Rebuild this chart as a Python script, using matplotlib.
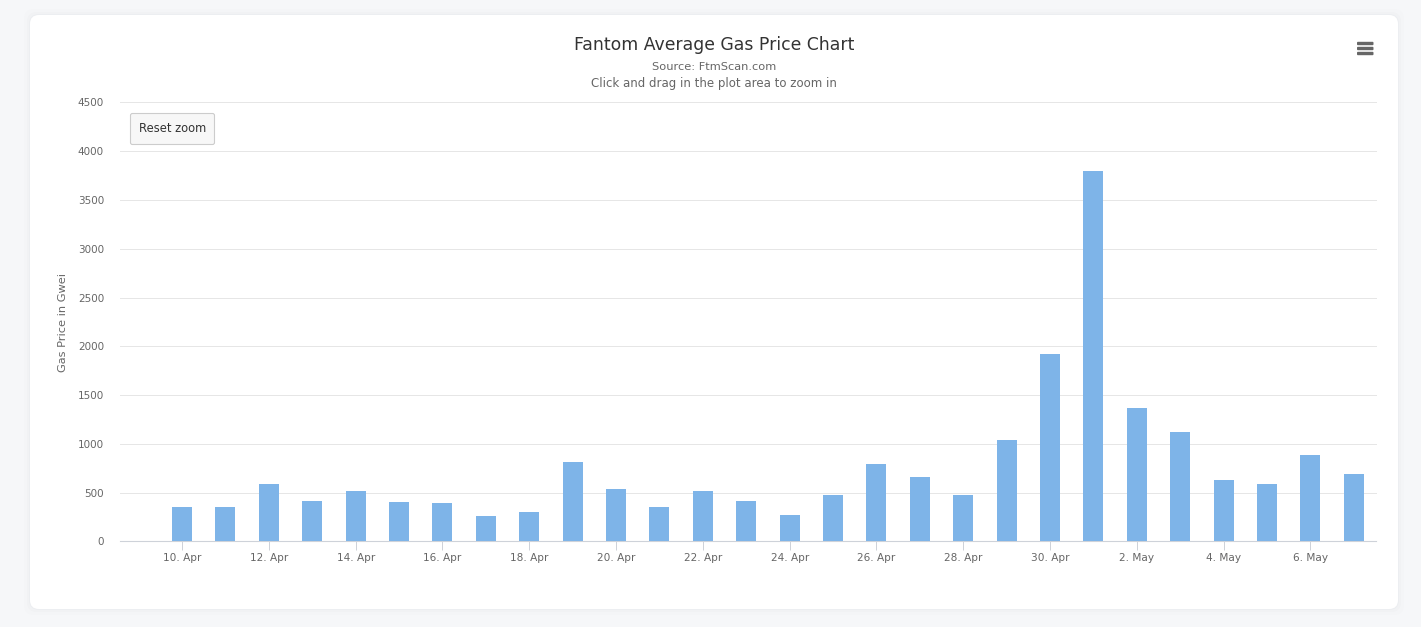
import matplotlib
matplotlib.use("Agg")
import matplotlib.pyplot as plt
from matplotlib.patches import FancyBboxPatch

W, H = 1421, 627

# one bar per day, 10 Apr to 7 May
days = list(range(28))
gas_price = [355, 355, 590, 415, 520, 405, 395, 260, 300, 815,
             540, 355, 520, 415, 270, 475, 795, 665, 475, 1040,
             1925, 3800, 1370, 1120, 630, 590, 885, 695]
tick_days = [0, 2, 4, 6, 8, 10, 12, 14, 16, 18, 20, 22, 24, 26]
tick_labels = ["10. Apr", "12. Apr", "14. Apr", "16. Apr", "18. Apr", "20. Apr", "22. Apr",
               "24. Apr", "26. Apr", "28. Apr", "30. Apr", "2. May", "4. May", "6. May"]
y_ticks = [0, 500, 1000, 1500, 2000, 2500, 3000, 3500, 4000, 4500]

plt.rcParams['font.family'] = ['DejaVu Sans']

fig = plt.figure(figsize=(W / 100, H / 100), dpi=100, facecolor='#f6f7f9')

# page layer, in image pixels with y going down
bg = fig.add_axes([0, 0, 1, 1])
bg.set_xlim(0, W)
bg.set_ylim(H, 0)
bg.axis('off')
# soft shadow around the card
for grow, col in [(6, '#f4f5f7'), (3, '#f1f2f4'), (1, '#eceef1')]:
    bg.add_patch(FancyBboxPatch((30 - grow, 15 - grow), 1368 + 2 * grow, 594 + 2 * grow,
                                boxstyle="round,pad=0,rounding_size=10", fc=col, ec='none'))
bg.add_patch(FancyBboxPatch((30, 15), 1368, 594, boxstyle="round,pad=0,rounding_size=9",
                            fc='white', ec='none'))

# plot area
left, right, top, bottom = 120, 1376, 102.4, 541.4
ax = fig.add_axes([left / W, 1 - bottom / H, (right - left) / W, (bottom - top) / H])
ax.patch.set_alpha(0)
ax.bar(days, gas_price, width=0.46, color='#7eb4e8', zorder=3)
ax.set_xlim(-1.43, 27.51)
ax.set_ylim(0, 4500)
ax.set_yticks(y_ticks)
ax.set_xticks(tick_days)
ax.set_xticklabels(tick_labels)
ax.grid(axis='y', color='#e6e6e6', linewidth=0.72, zorder=0, clip_on=False)
ax.tick_params(axis='y', length=0, pad=11.5, labelsize=7.5, labelcolor='#666666')
ax.tick_params(axis='x', length=6.5, width=0.72, color='#ced2d9', pad=1.5, labelsize=7.6, labelcolor='#666666')
for name in ['top', 'left', 'right']:
    ax.spines[name].set_visible(False)
ax.spines['bottom'].set_color('#ced2d9')
ax.spines['bottom'].set_linewidth(0.8)
ax.set_axisbelow(True)

bg.text(63, 322, "Gas Price in Gwei", rotation=90, ha='center', va='center', fontsize=8.2, color='#666666')
bg.text(714, 45, "Fantom Average Gas Price Chart", ha='center', va='center', fontsize=12.4, color='#333333')
bg.text(714, 67.5, "Source: FtmScan.com", ha='center', va='center', fontsize=8.2, color='#666666')
bg.text(714, 83, "Click and drag in the plot area to zoom in", ha='center', va='center', fontsize=8.45, color='#666666')

# reset zoom button sits above the plot
top_layer = fig.add_axes([0, 0, 1, 1])
top_layer.set_xlim(0, W)
top_layer.set_ylim(H, 0)
top_layer.axis('off')
top_layer.add_patch(FancyBboxPatch((130.5, 113.5), 84, 31, boxstyle="round,pad=0,rounding_size=2",
                                   fc='#f7f7f7', ec='#cccccc', lw=0.8))
top_layer.text(172.5, 128.5, "Reset zoom", ha='center', va='center', fontsize=8.3, color='#333333')

# export menu icon
for y in [43.5, 48.5, 53.5]:
    top_layer.add_patch(FancyBboxPatch((1357, y - 1.7), 16.5, 3.4, boxstyle="round,pad=0,rounding_size=1",
                                       fc='#666666', ec='none'))

fig.savefig('out.png', dpi=100, facecolor=fig.get_facecolor())
